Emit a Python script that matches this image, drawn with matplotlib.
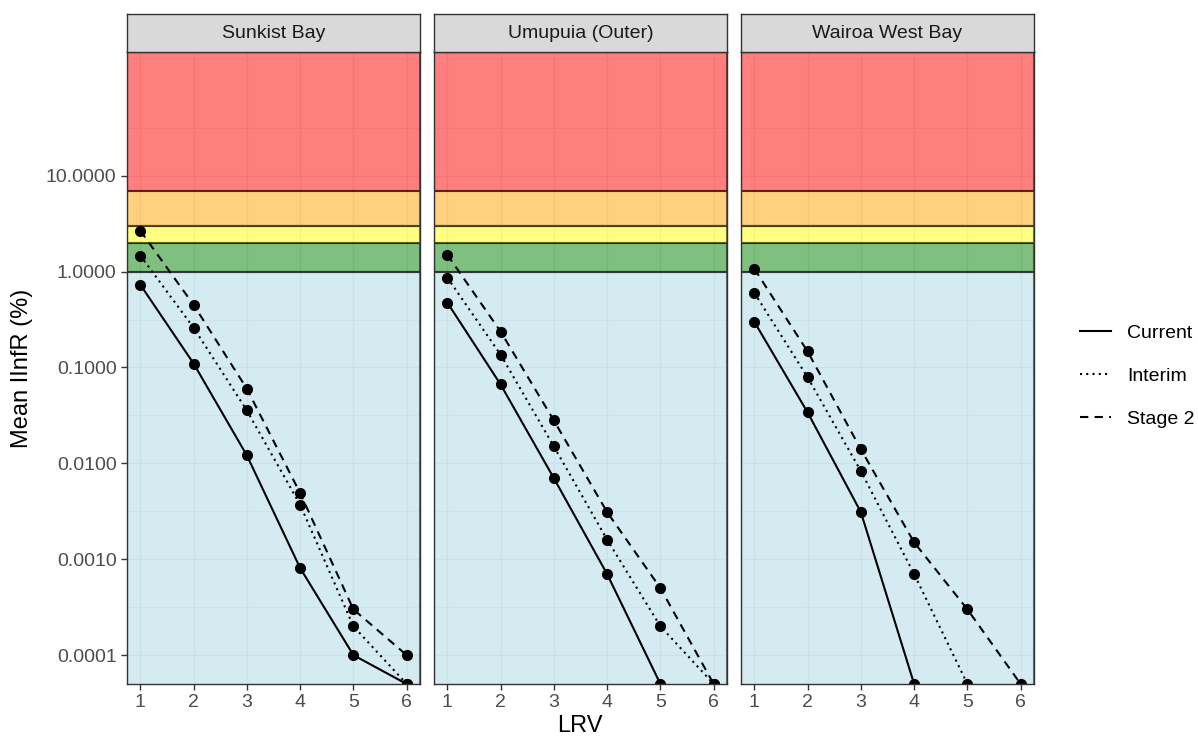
import matplotlib
matplotlib.use("Agg")
import matplotlib.pyplot as plt
from matplotlib.lines import Line2D
import numpy as np

plt.rcParams['font.family'] = ['Liberation Sans', 'DejaVu Sans']

sites = ["Sunkist Bay", "Umupuia (Outer)", "Wairoa West Bay"]
scenarios = ["Current", "Interim", "Stage 2"]
styles = {"Current": "-", "Interim": (0, (1, 2)), "Stage 2": (0, (4, 3))}

lrv = [1, 2, 3, 4, 5, 6]
# mean IInfR (%), by site then scenario
iinfr = {
    "Sunkist Bay": {
        "Current": [0.73, 0.11, 0.0121, 0.00081, 0.0001, 0.00005],
        "Interim": [1.47, 0.26, 0.0356, 0.0037, 0.0002, 0.00005],
        "Stage 2": [2.67, 0.45, 0.060, 0.0049, 0.0003, 0.0001],
    },
    "Umupuia (Outer)": {
        "Current": [0.475, 0.0665, 0.0070, 0.0007, 0.00005, np.nan],
        "Interim": [0.866, 0.136, 0.015, 0.0016, 0.0002, 0.00005],
        "Stage 2": [1.5, 0.237, 0.028, 0.0031, 0.0005, 0.00005],
    },
    "Wairoa West Bay": {
        "Current": [0.30, 0.034, 0.0031, 0.00005, np.nan, np.nan],
        "Interim": [0.60, 0.079, 0.0083, 0.0007, 0.00005, np.nan],
        "Stage 2": [1.07, 0.147, 0.014, 0.0015, 0.0003, 0.00005],
    },
}

# risk bands (lower, upper, colour)
band_lo = [1e-9, 1, 2, 3, 7]
band_hi = [1, 2, 3, 7, 1e6]
band_col = ["lightblue", "green", "yellow", "orange", "red"]

ymin, ymax = 5e-5, 195
W, H = 1198, 740
fig = plt.figure(figsize=(W / 100, H / 100), dpi=100)

lefts = [127, 434, 741]
pw = 293
ptop, pbot = 52, 684
strip_top = 14

yticks = [10, 1, 0.1, 0.01, 0.001, 0.0001]
ylabels = ["10.0000", "1.0000", "0.1000", "0.0100", "0.0010", "0.0001"]
yminor = [10 ** (k + 0.5) for k in range(-5, 3)]

for i, site in enumerate(sites):
    x0 = lefts[i]
    ax = fig.add_axes([x0 / W, 1 - pbot / H, pw / W, (pbot - ptop) / H])
    ax.set_yscale("log")
    ax.set_facecolor("white")

    for lo, hi, c in zip(band_lo, band_hi, band_col):
        ax.axhspan(lo, hi, facecolor=c, alpha=0.5, edgecolor="black", lw=1.5, zorder=1)

    for s in scenarios:
        ax.plot(lrv, iinfr[site][s], color="black", ls=styles[s], lw=1.5,
                marker="o", ms=7, zorder=3, clip_on=True, label=s)

    ax.set_xticks(lrv)
    ax.set_yticks(yticks)
    ax.set_yticks(yminor, minor=True)
    ax.xaxis.set_minor_locator(matplotlib.ticker.NullLocator())
    # limits after ticks, otherwise set_yticks widens the view
    ax.set_xlim(0.75, 6.25)
    ax.set_ylim(ymin, ymax)
    ax.grid(True, which="major", color="#EBEBEB", lw=1.0, zorder=0)
    ax.grid(True, which="minor", axis="y", color="#EBEBEB", lw=0.6, zorder=0)
    ax.set_axisbelow(True)

    ax.tick_params(axis="both", which="major", labelsize=14, colors="#333333",
                   labelcolor="#4D4D4D", length=4, width=1)
    ax.tick_params(axis="y", which="minor", length=0)
    if i == 0:
        ax.set_yticklabels(ylabels)
    else:
        ax.set_yticklabels([])
        ax.tick_params(axis="y", which="major", length=0)
    for sp in ax.spines.values():
        sp.set_color("#333333")
        sp.set_linewidth(1.0)
        sp.set_zorder(5)

    sax = fig.add_axes([x0 / W, 1 - ptop / H, pw / W, (ptop - strip_top) / H])
    sax.set_facecolor("#D9D9D9")
    sax.set_xticks([])
    sax.set_yticks([])
    for sp in sax.spines.values():
        sp.set_color("#333333")
        sp.set_linewidth(1.0)
    sax.text(0.5, 0.5, site, ha="center", va="center", fontsize=14,
             color="#1A1A1A", transform=sax.transAxes)

leg_handles = [Line2D([], [], color="black", ls=styles[s], lw=1.5) for s in scenarios]
fig.legend(leg_handles, scenarios, loc="center left", bbox_to_anchor=(1062 / W, 1 - 376 / H),
           frameon=False, fontsize=14, handlelength=1.6, labelspacing=1.3,
           handletextpad=0.85)

fig.text(580 / W, 1 - 726 / H, "LRV", ha="center", va="center", fontsize=17)
fig.text(22 / W, 1 - 368 / H, "Mean IInfR (%)", ha="center", va="center",
         rotation=90, fontsize=17)

fig.savefig("out.png", dpi=100)
